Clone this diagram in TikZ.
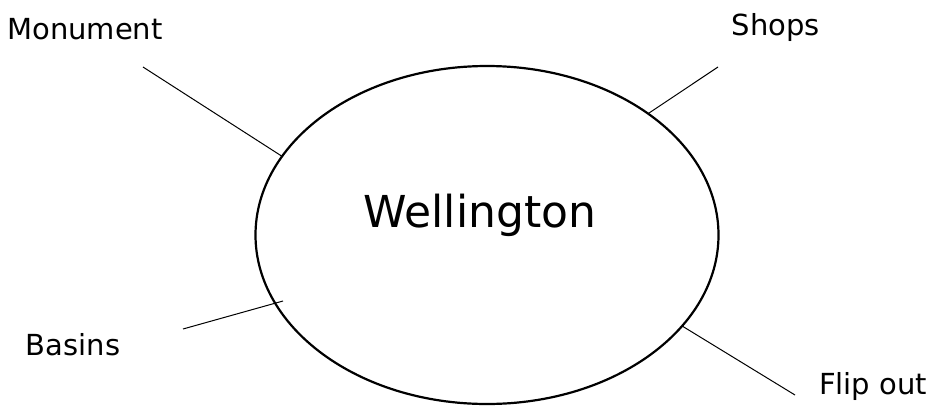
\documentclass[tikz,border=0pt]{standalone}
\usepackage{fontspec}
\setmainfont{DejaVu Sans}
\usetikzlibrary{shapes.geometric}
\begin{document}
\begin{tikzpicture}[x=1pt,y=-1pt,
  lbl/.style={font=\fontsize{29}{34}\selectfont, anchor=base, inner sep=0pt},
  title/.style={font=\fontsize{44}{50}\selectfont, anchor=base, inner sep=0pt},
  conn/.style={line width=1pt},
  hub/.style={draw, ellipse, line width=2.2pt, minimum width=463pt, minimum height=338pt, inner sep=0pt, outer sep=0pt}]
\useasboundingbox (0,0) rectangle (933,410);
\node[hub] (well) at (487,235) {};
\node[title] (wtext) at (480,227) {Wellington};
\node[lbl] (monument) at (85,39) {Monument};
\node[lbl] (shops) at (776,35) {Shops};
\node[lbl] (basins) at (73,355) {Basins};
\node[lbl] (flip) at (873,394) {Flip out};
\coordinate (m1) at (143,67);
\coordinate (s1) at (718,67);
\coordinate (b1) at (183,329);
\coordinate (b2) at (283,301);
\coordinate (f1) at (795,395);
\draw[conn] (m1) -- (well.159.8);
\draw[conn] (s1) -- (well.37.8);
\draw[conn] (b1) -- (b2);
\draw[conn] (f1) -- (well.-25.2);
\end{tikzpicture}
\end{document}
